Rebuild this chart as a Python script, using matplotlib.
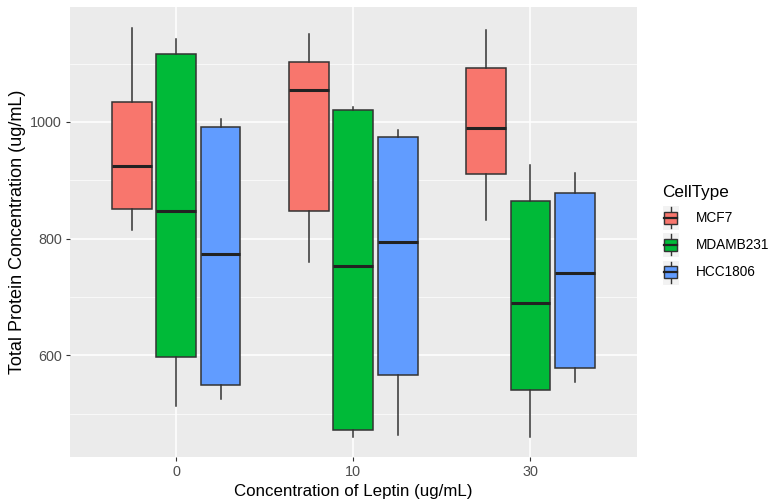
import matplotlib.pyplot as plt
from matplotlib.patches import Patch, Rectangle
from matplotlib.lines import Line2D
from matplotlib.legend_handler import HandlerBase

plt.rcParams['font.family'] = ['Liberation Sans', 'DejaVu Sans']

# Data
doses = ['0', '10', '30']
cell_types = ['MCF7', 'MDAMB231', 'HCC1806']
colors = ['#F8766D', '#00BA38', '#619CFF']

# per cell type: one value per dose
whisker_low = {
    'MCF7': [815, 760, 832],
    'MDAMB231': [514, 460, 460],
    'HCC1806': [526, 463, 555],
}
q1 = {
    'MCF7': [851, 847, 911],
    'MDAMB231': [597, 472, 541],
    'HCC1806': [550, 566, 579],
}
medians = {
    'MCF7': [925, 1054, 990],
    'MDAMB231': [848, 753, 689],
    'HCC1806': [774, 795, 741],
}
q3 = {
    'MCF7': [1034, 1103, 1093],
    'MDAMB231': [1117, 1021, 865],
    'HCC1806': [991, 975, 879],
}
whisker_high = {
    'MCF7': [1161, 1151, 1158],
    'MDAMB231': [1142, 1026, 927],
    'HCC1806': [1005, 986, 913],
}


class BoxKeyHandler(HandlerBase):
    # ggplot-like legend key: grey square with a small boxplot glyph
    def create_artists(self, legend, orig_handle, xdescent, ydescent,
                       width, height, fontsize, trans):
        x0, y0 = -xdescent, -ydescent
        bg = Rectangle((x0, y0), width, height, facecolor='#F2F2F2',
                       edgecolor='white', linewidth=0.8, transform=trans)
        bx = Rectangle((x0 + 0.1 * width, y0 + 0.26 * height), 0.8 * width, 0.48 * height,
                       facecolor=orig_handle.get_facecolor(), edgecolor='#333333',
                       linewidth=1.0, transform=trans)
        cx = x0 + width / 2
        w1 = Line2D([cx, cx], [y0 + 0.08 * height, y0 + 0.26 * height],
                    color='#333333', linewidth=1.0, transform=trans)
        w2 = Line2D([cx, cx], [y0 + 0.74 * height, y0 + 0.92 * height],
                    color='#333333', linewidth=1.0, transform=trans)
        med = Line2D([x0 + 0.1 * width, x0 + 0.9 * width], [y0 + 0.5 * height] * 2,
                     color='#222222', linewidth=1.6, transform=trans)
        return [bg, w1, w2, bx, med]


fig = plt.figure(figsize=(7.69, 5.01), dpi=100)
ax = fig.add_axes([0.091, 0.088, 0.737, 0.898])
ax.set_facecolor('#EBEBEB')

dodge = 0.25
box_w = 0.225
for j, ct in enumerate(cell_types):
    stats = []
    pos = []
    for i in range(len(doses)):
        stats.append({
            'whislo': whisker_low[ct][i], 'q1': q1[ct][i], 'med': medians[ct][i],
            'q3': q3[ct][i], 'whishi': whisker_high[ct][i], 'fliers': [],
        })
        pos.append(i + 1 + (j - 1) * dodge)
    ax.bxp(stats, positions=pos, widths=box_w, patch_artist=True, showcaps=False,
           boxprops=dict(facecolor=colors[j], edgecolor='#333333', linewidth=1.1),
           medianprops=dict(color='#222222', linewidth=2.2),
           whiskerprops=dict(color='#333333', linewidth=1.1),
           zorder=3)

ax.set_xlim(0.4, 3.6)
ax.set_ylim(426, 1197)
ax.set_xticks([1, 2, 3])
ax.set_xticklabels(doses)
ax.set_yticks([600, 800, 1000])
ax.set_yticks([500, 700, 900, 1100], minor=True)
ax.grid(True, which='major', color='white', linewidth=1.1, zorder=0)
ax.grid(True, which='minor', axis='y', color='white', linewidth=0.5, zorder=0)
ax.set_axisbelow(True)
for s in ax.spines.values():
    s.set_visible(False)
ax.tick_params(axis='both', which='major', colors='#333333', labelcolor='#4D4D4D',
               labelsize=10.4, length=3, pad=3)
ax.tick_params(axis='y', which='minor', length=0)

ax.set_xlabel('Concentration of Leptin (ug/mL)', fontsize=12.2, labelpad=3.5)
ax.set_ylabel('Total Protein Concentration (ug/mL)', fontsize=13, labelpad=3)

handles = [Patch(facecolor=c) for c in colors]
leg = fig.legend(handles, cell_types, title='CellType', loc='upper left',
                 bbox_to_anchor=(0.861, 0.631), frameon=False, fontsize=9.8,
                 title_fontsize=12.3, handlelength=1.25, handleheight=2.45,
                 labelspacing=0.15, handletextpad=1.25, borderpad=0, borderaxespad=0,
                 handler_map={Patch: BoxKeyHandler()})
leg._legend_box.align = 'left'
leg._legend_box.sep = 4

fig.savefig('out.png', dpi=100)
